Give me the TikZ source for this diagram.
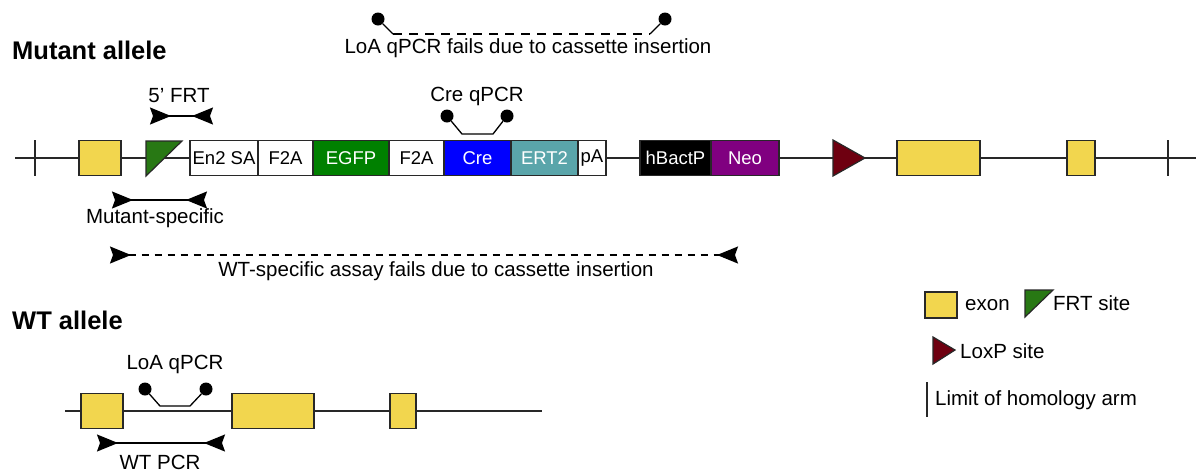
\documentclass[tikz,border=0pt]{standalone}
\usepackage{fontspec}
\setmainfont{Liberation Sans}
\usetikzlibrary{arrows.meta}
\definecolor{exonc}{RGB}{242,214,78}
\definecolor{frtc}{RGB}{40,120,20}
\definecolor{egfpc}{RGB}{0,128,0}
\definecolor{crec}{RGB}{0,0,255}
\definecolor{ertc}{RGB}{90,165,170}
\definecolor{neoc}{RGB}{128,0,128}
\definecolor{loxc}{RGB}{110,0,16}
\definecolor{edge}{RGB}{40,40,40}
\begin{document}
\begin{tikzpicture}[x=1pt,y=-1pt,
  lbl/.style={font=\fontsize{20.5}{24}\selectfont, inner sep=0},
  ttl/.style={font=\fontsize{25.5}{30}\selectfont\bfseries, inner sep=0, anchor=west},
  bb/.style={line width=1.5pt, draw=edge},
  part/.style={draw=edge, line width=1.2pt, minimum height=35pt, inner sep=0, outer sep=0, anchor=west, font=\fontsize{18.5}{21}\selectfont},
  exon/.style={part, fill=exonc},
  primer/.style={line width=1.5pt, {Stealth[reversed,length=21pt,width=17pt,inset=3pt]}-{Stealth[reversed,length=21pt,width=17pt,inset=3pt]}},
  lolli/.style={line width=1.3pt},
  dot/.style={circle, fill=black, minimum size=13pt, inner sep=0},
  tick/.style={line width=1.3pt, draw=edge}]
\useasboundingbox (0,0) rectangle (1196,475);

% ---------- Mutant allele ----------
\node[ttl] (mt) at (12,50) {Mutant allele};
\coordinate (mL) at (15,158);
\coordinate (mR) at (1196,158);
\draw[bb] (mL) -- (mR);
\coordinate (t1a) at (35,140); \coordinate (t1b) at (35,176);
\draw[tick] (t1a) -- (t1b);
\coordinate (t2a) at (1168,140); \coordinate (t2b) at (1168,176);
\draw[tick] (t2a) -- (t2b);

\node[exon, minimum width=42pt] (e1) at (79,158) {};
\coordinate (f1) at (146,141); \coordinate (f2) at (182,141); \coordinate (f3) at (146,176);
\filldraw[fill=frtc, draw=edge, line width=1.2pt] (f1) -- (f2) -- (f3) -- cycle;

\node[part, fill=white, minimum width=68pt] (en2) at (190,158) {En2 SA};
\node[part, fill=white, minimum width=55pt] (f2a1) at (258,158) {F2A};
\node[part, fill=egfpc, text=white, minimum width=76pt] (egfp) at (313,158) {EGFP};
\node[part, fill=white, minimum width=55pt] (f2a2) at (389,158) {F2A};
\node[part, fill=crec, text=white, minimum width=67pt] (cre) at (444,158) {Cre};
\node[part, fill=ertc, text=white, minimum width=67pt] (ert) at (511,158) {ERT2};
\node[part, fill=white, minimum width=28pt] (pa) at (578,158) {pA};

\node[part, fill=black, text=white, minimum width=71pt] (hb) at (640,158) {hBactP};
\node[part, fill=neoc, text=white, minimum width=68pt] (neo) at (711,158) {Neo};

\coordinate (l1) at (833,140); \coordinate (l2) at (833,176); \coordinate (l3) at (865,158);
\filldraw[fill=loxc, draw=edge, line width=1.2pt] (l1) -- (l3) -- (l2) -- cycle;

\node[exon, minimum width=83pt] (e2) at (897,158) {};
\node[exon, minimum width=28pt] (e3) at (1067,158) {};

% LoA qPCR fails
\node[dot] (la) at (378,19) {};
\node[dot] (lb) at (665,19) {};
\coordinate (la1) at (393,34); \coordinate (lb1) at (650,34);
\draw[lolli] (la) -- (la1);
\draw[lolli, dashed, dash pattern=on 9pt off 7pt] (la1) -- (lb1);
\draw[lolli] (lb1) -- (lb);
\node[lbl] (lat) at (528,48) {LoA qPCR fails due to cassette insertion};

% 5' FRT
\node[lbl] (frtt) at (179,96) {5' FRT};
\coordinate (fa) at (150,116); \coordinate (fb) at (213,116);
\draw[primer] (fa) -- (fb);

% Cre qPCR
\node[lbl] (creq) at (477,96) {Cre qPCR};
\node[dot] (ca) at (447,116) {};
\node[dot] (cb) at (507,116) {};
\coordinate (ca1) at (462,134); \coordinate (cb1) at (493,134);
\draw[lolli] (ca) -- (ca1) -- (cb1) -- (cb);

% Mutant-specific
\coordinate (ma) at (112,200); \coordinate (mb) at (207,200);
\draw[primer] (ma) -- (mb);
\node[lbl] (mst) at (155,218) {Mutant-specific};

% WT-specific fails
\coordinate (wa) at (110,255); \coordinate (wb) at (738,255);
\draw[primer, dashed, dash pattern=on 7pt off 6pt] (wa) -- (wb);
\node[lbl] (wst) at (436,271) {WT-specific assay fails due to cassette insertion};

% ---------- WT allele ----------
\node[ttl] (wt) at (12,320) {WT allele};
\coordinate (wL) at (65,411); \coordinate (wR) at (542,411);
\draw[bb] (wL) -- (wR);
\node[exon, minimum width=42pt] (w1) at (81,411) {};
\node[exon, minimum width=82pt] (w2) at (232,411) {};
\node[exon, minimum width=26pt] (w3) at (390,411) {};

\node[lbl] (loaq) at (175,364) {LoA qPCR};
\node[dot] (qa) at (145,389) {};
\node[dot] (qb) at (206,389) {};
\coordinate (qa1) at (160,406); \coordinate (qb1) at (190,406);
\draw[lolli] (qa) -- (qa1) -- (qb1) -- (qb);

\coordinate (pa1) at (97,443); \coordinate (pb1) at (225,443);
\draw[primer] (pa1) -- (pb1);
\node[lbl] (wtp) at (160,462) {WT PCR};

% ---------- Legend ----------
\node[exon, minimum width=32pt, minimum height=26pt] (lex) at (925,305) {};
\node[lbl, anchor=west] (lext) at (965,305) {exon};
\coordinate (g1) at (1025,290); \coordinate (g2) at (1053,290); \coordinate (g3) at (1025,317);
\filldraw[fill=frtc, draw=edge, line width=1.2pt] (g1) -- (g2) -- (g3) -- cycle;
\node[lbl, anchor=west] (lfrt) at (1053,303) {FRT site};
\coordinate (h1) at (933,337); \coordinate (h2) at (933,364); \coordinate (h3) at (955,350);
\filldraw[fill=loxc, draw=edge, line width=1.2pt] (h1) -- (h3) -- (h2) -- cycle;
\node[lbl, anchor=west] (llox) at (960,351) {LoxP site};
\coordinate (k1) at (927,382); \coordinate (k2) at (927,417);
\draw[tick] (k1) -- (k2);
\node[lbl, anchor=west] (llim) at (935,400) {Limit of homology arm};
\end{tikzpicture}
\end{document}
